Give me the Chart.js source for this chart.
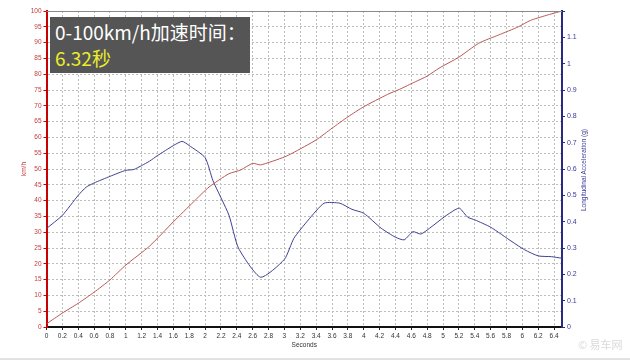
<!DOCTYPE html>
<html>
<head>
<meta charset="utf-8">
<script src="https://cdn.jsdelivr.net/npm/chart.js@4.4.1/dist/chart.umd.min.js"></script>
<style>
  html, body { margin: 0; padding: 0; background: #fff; }
  #wrap { position: relative; width: 630px; height: 360px; overflow: hidden; }
  #accelChart { position: absolute; left: 0; top: 0; }
  .badge {
    position: absolute; left: 50px; top: 17px; width: 200px; height: 56px;
    background: #555; box-sizing: border-box; padding: 2px 0 0 5px;
    font-family: "Noto Sans CJK SC", sans-serif; font-size: 19px; line-height: 26px;
  }
  .badge .l1 { color: #fff; white-space: nowrap; }
  .badge .l2 { color: #eded2a; }
  .rtitle {
    position: absolute; left: 583px; top: 170px; white-space: nowrap;
    transform: translate(-50%, -50%) rotate(-90deg);
    font-family: "Liberation Sans", Arial, sans-serif; font-size: 6.5px; color: #3a3a96;
  }
  .mark {
    position: absolute; left: 578px; top: 336px; white-space: nowrap;
    font-family: "Noto Sans CJK SC", sans-serif; font-size: 11px; color: #dadada;
  }
  .sep { position: absolute; left: 0; top: 358px; width: 630px; height: 2px; background: #e2e2e2; }
</style>
</head>
<body>
<div id="wrap">
  <canvas id="accelChart" width="630" height="360"></canvas>
  <div class="badge"><div class="l1">0-100km/h加速时间：</div><div class="l2">6.32秒</div></div>
  <div class="rtitle">Longitudinal Acceleration (g)</div>
  <div class="mark">© 易车网</div>
  <div class="sep"></div>
</div>
<script>
/* ── Data ────────────────────────────────────────────────── */
const speedTimes = [0, 0.2, 0.4, 0.6, 0.8, 1.0, 1.3, 1.6, 1.85, 2.05, 2.3, 2.45, 2.6, 2.7, 3.0, 3.1,
  3.4, 3.6, 3.8, 4.0, 4.3, 4.45, 4.65, 4.8, 4.95, 5.2, 5.45, 5.7, 5.95, 6.1, 6.3, 6.5];
const speedKmh = [1.0, 4.4, 7.5, 11.0, 14.9, 19.6, 25.6, 33.3, 39.5, 44.3, 48.5, 49.7, 51.8, 51.3, 53.8, 55.0,
  59.2, 62.9, 66.5, 69.7, 73.6, 75.2, 77.6, 79.4, 81.9, 85.4, 89.8, 92.4, 95.0, 97.0, 98.6, 100];

const accelTimes = [0, 0.2, 0.4, 0.5, 0.6, 0.8, 1.0, 1.1, 1.2, 1.3, 1.4, 1.6, 1.71, 1.8, 2.0, 2.1, 2.3, 2.42,
  2.7, 3.0, 3.12, 3.3, 3.5, 3.7, 3.85, 4.0, 4.22, 4.4, 4.51, 4.62, 4.72, 4.83, 5.02, 5.15, 5.21, 5.31,
  5.4, 5.6, 5.87, 6.03, 6.2, 6.37, 6.5];
const accelG = [0.374, 0.424, 0.5, 0.531, 0.547, 0.572, 0.595, 0.598, 0.613, 0.63, 0.651, 0.689, 0.705, 0.689,
  0.643, 0.555, 0.425, 0.3, 0.189, 0.257, 0.337, 0.406, 0.47, 0.47, 0.447, 0.432, 0.375, 0.341, 0.331,
  0.362, 0.353, 0.375, 0.419, 0.445, 0.451, 0.417, 0.407, 0.379, 0.324, 0.293, 0.27, 0.267, 0.261];

/* axis ranges / tick steps */
const timeRange = [0, 6.5], timeStep = 0.2;
const speedRange = [0, 100], speedStep = 5;
const accelRange = [0, 1.2], accelStep = 0.1, accelMaxLabel = 1.1;

const tickFont = { family: 'Liberation Sans', size: 6.5 };
const gridColor = '#bdbdbd';

/* solid top border of the plot */
const topBorder = {
  id: 'topBorder',
  afterDraw(chart) {
    const { ctx, chartArea: a } = chart;
    ctx.save();
    ctx.strokeStyle = '#8a8a8a';
    ctx.lineWidth = 1;
    ctx.beginPath();
    ctx.moveTo(a.left, a.top + 0.5);
    ctx.lineTo(a.right, a.top + 0.5);
    ctx.stroke();
    ctx.restore();
  }
};

new Chart(document.getElementById('accelChart').getContext('2d'), {
  type: 'line',
  data: {
    datasets: [
      {
        label: 'Speed',
        data: speedTimes.map((t, i) => ({ x: t, y: speedKmh[i] })),
        yAxisID: 'y',
        borderColor: '#b85858',
        borderWidth: 1,
        pointRadius: 0,
        tension: 0.2
      },
      {
        label: 'Acceleration',
        data: accelTimes.map((t, i) => ({ x: t, y: accelG[i] })),
        yAxisID: 'y1',
        borderColor: '#404092',
        borderWidth: 1,
        pointRadius: 0,
        tension: 0.2
      }
    ]
  },
  options: {
    responsive: false,
    animation: false,
    layout: { padding: { top: 11, left: 0, right: 0, bottom: 0 } },
    plugins: { legend: { display: false }, tooltip: { enabled: false } },
    scales: {
      x: {
        type: 'linear',
        min: timeRange[0], max: timeRange[1],
        afterFit(s) { s.height = 33; },
        ticks: {
          stepSize: timeStep, includeBounds: false, autoSkip: false, maxRotation: 0,
          color: '#333', font: tickFont, padding: 2,
          callback: v => String(Number(v.toFixed(1)))
        },
        grid: { color: gridColor, tickColor: '#222', tickLength: 3 },
        border: { color: '#111', width: 2, dash: [2, 2] },
        title: {
          display: true, text: 'Seconds', color: '#333',
          font: { family: 'Liberation Sans', size: 6.5 }, padding: { top: 0, bottom: 11 }
        }
      },
      y: {
        position: 'left',
        min: speedRange[0], max: speedRange[1],
        afterFit(s) { s.width = 46.5; },
        ticks: { stepSize: speedStep, color: '#c43a3a', font: tickFont, padding: 2 },
        grid: { color: gridColor, tickColor: '#c00', tickLength: 3 },
        border: { color: '#c80000', width: 2, dash: [2, 2] },
        title: {
          display: true, text: 'km/h', color: '#c43a3a',
          font: { family: 'Liberation Sans', size: 6.5 }, padding: { top: 20, bottom: 0 }
        }
      },
      y1: {
        position: 'right',
        min: accelRange[0], max: accelRange[1],
        afterFit(s) { s.width = 68; },
        ticks: {
          stepSize: accelStep, color: '#3a3a96', font: { family: 'Liberation Sans', size: 7 }, padding: 2,
          callback: v => v > accelMaxLabel + 0.01 ? '' : String(Number(v.toFixed(1)))
        },
        grid: { drawOnChartArea: false, tickColor: '#2a2a80', tickLength: 3 },
        border: { color: '#2a2a80', width: 2 }
      }
    }
  },
  plugins: [topBorder]
});
</script>
</body>
</html>
